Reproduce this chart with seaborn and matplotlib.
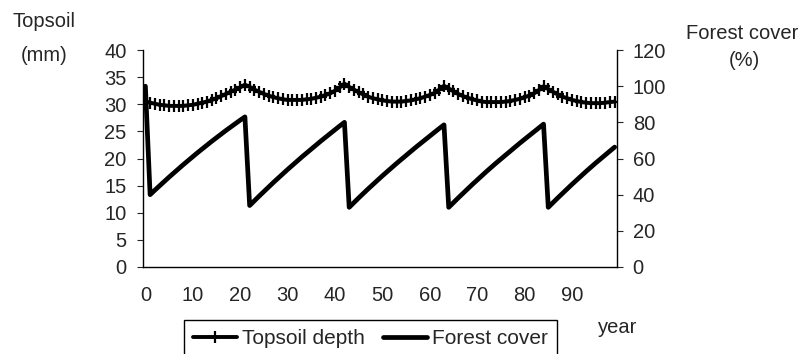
import matplotlib
matplotlib.use("Agg")
import matplotlib.pyplot as plt
import seaborn as sns
import pandas as pd

# ---- data ----
years = list(range(100))
topsoil_mm = [
    30.5, 30.3, 30.1, 29.9, 29.8, 29.7, 29.7, 29.7, 29.7, 29.8, 29.9, 30.1, 30.3, 30.5, 30.8, 31.1, 31.5, 31.9, 32.3, 32.7, 33.1, 33.6,
    33.2, 32.7, 32.3, 31.9, 31.6, 31.3, 31.1, 30.9, 30.8, 30.8, 30.8, 30.8, 30.9, 31.0, 31.2, 31.4, 31.7, 32.0, 32.5, 33.1, 33.8,
    33.2, 32.7, 32.2, 31.8, 31.4, 31.1, 30.9, 30.7, 30.6, 30.5, 30.5, 30.5, 30.6, 30.7, 30.9, 31.1, 31.4, 31.7, 32.1, 32.7, 33.4,
    32.9, 32.4, 31.9, 31.5, 31.2, 30.9, 30.7, 30.5, 30.4, 30.4, 30.4, 30.4, 30.5, 30.6, 30.8, 31.0, 31.3, 31.6, 32.0, 32.6, 33.3,
    32.8, 32.3, 31.8, 31.4, 31.1, 30.8, 30.6, 30.4, 30.3, 30.2, 30.2, 30.2, 30.3, 30.4, 30.5,
]
forest_pct = [
    100.0,
    40.0, 42.5, 44.9, 47.3, 49.7, 52.0, 54.3, 56.6, 58.8, 61.0, 63.2, 65.3, 67.4, 69.5, 71.5, 73.5, 75.5, 77.4, 79.3, 81.2, 83.0,
    34.0, 36.6, 39.2, 41.7, 44.2, 46.7, 49.1, 51.5, 53.9, 56.2, 58.5, 60.8, 63.0, 65.2, 67.4, 69.6, 71.7, 73.8, 75.9, 78.0, 80.0,
    33.0, 35.6, 38.2, 40.7, 43.2, 45.6, 48.0, 50.4, 52.7, 55.0, 57.3, 59.5, 61.7, 63.9, 66.1, 68.2, 70.3, 72.4, 74.5, 76.6, 78.6,
    33.0, 35.6, 38.2, 40.7, 43.2, 45.7, 48.1, 50.5, 52.9, 55.2, 57.5, 59.7, 61.9, 64.1, 66.3, 68.5, 70.6, 72.7, 74.8, 76.9, 79.0,
    33.0, 35.6, 38.2, 40.7, 43.2, 45.7, 48.1, 50.5, 52.9, 55.2, 57.5, 59.7, 61.9, 64.1, 66.3,
]
x_ticks = [0, 10, 20, 30, 40, 50, 60, 70, 80, 90]
left_ticks = [0, 5, 10, 15, 20, 25, 30, 35, 40]
right_ticks = [0, 20, 40, 60, 80, 100, 120]
series_labels = ["Topsoil depth", "Forest cover"]

df = pd.DataFrame({"year": years, "topsoil": topsoil_mm, "forest": forest_pct})

sns.set_style("white")
plt.rcParams["font.family"] = ["Liberation Sans", "DejaVu Sans"]

W, H = 811, 354
fig = plt.figure(figsize=(W / 100, H / 100), dpi=100)
ax = fig.add_axes([143 / W, 1 - 267 / H, (617 - 143) / W, (267 - 50) / H])
ax2 = ax.twinx()

sns.lineplot(data=df, x="year", y="topsoil", ax=ax, color="black", lw=2.8,
             marker="+", markersize=8.5, markeredgecolor="black", mew=1.6,
             label=series_labels[0], legend=False)
sns.lineplot(data=df, x="year", y="forest", ax=ax2, color="black", lw=3.4,
             label=series_labels[1], legend=False)

fs = 14.5
ax.set_xlim(-0.5, 99.5)
ax.set_ylim(0, 40)
ax2.set_ylim(0, 120)
ax.set_xticks(x_ticks)
ax.set_yticks(left_ticks)
ax2.set_yticks(right_ticks)
ax.set_xlabel("")
ax.set_ylabel("")
ax2.set_ylabel("")
ax.tick_params(axis="x", length=0, pad=14, labelsize=fs)
ax.tick_params(axis="y", direction="out", length=4.3, width=0.8, pad=7.5,
               labelsize=fs, left=True)
ax2.tick_params(axis="y", direction="out", length=4.3, width=0.8, pad=7,
                labelsize=fs, right=True)

for a in (ax, ax2):
    a.spines["top"].set_visible(False)
    for s in ("left", "right", "bottom"):
        a.spines[s].set_color("black")
        a.spines[s].set_linewidth(1.0)
    a.grid(False)
ax.spines["right"].set_visible(False)
ax2.spines["left"].set_visible(False)
ax2.spines["bottom"].set_visible(False)
ax.set_facecolor("none")

# axis titles
fig.text(44 / W, 1 - 27 / H, "Topsoil", ha="center", va="baseline", fontsize=fs)
fig.text(44 / W, 1 - 61 / H, "(mm)", ha="center", va="baseline", fontsize=fs)
fig.text(742 / W, 1 - 39 / H, "Forest cover", ha="center", va="baseline", fontsize=fs)
fig.text(744 / W, 1 - 66 / H, "(%)", ha="center", va="baseline", fontsize=fs)
fig.text(598 / W, 1 - 333 / H, "year", ha="left", va="baseline", fontsize=fs)

# legend
h1, l1 = ax.get_legend_handles_labels()
h2, l2 = ax2.get_legend_handles_labels()
leg = fig.legend(h1 + h2, l1 + l2, loc="upper left",
                 bbox_to_anchor=(184 / W, 1 - 320 / H), bbox_transform=fig.transFigure,
                 ncol=2, frameon=True, fancybox=False, shadow=False,
                 edgecolor="black", borderaxespad=0, borderpad=0.45,
                 handlelength=2.1, handletextpad=0.25, columnspacing=0.85,
                 numpoints=1, prop={"size": 15})
leg.get_frame().set_linewidth(1.0)
leg.get_frame().set_alpha(None)

fig.savefig("out.png", dpi=100)
